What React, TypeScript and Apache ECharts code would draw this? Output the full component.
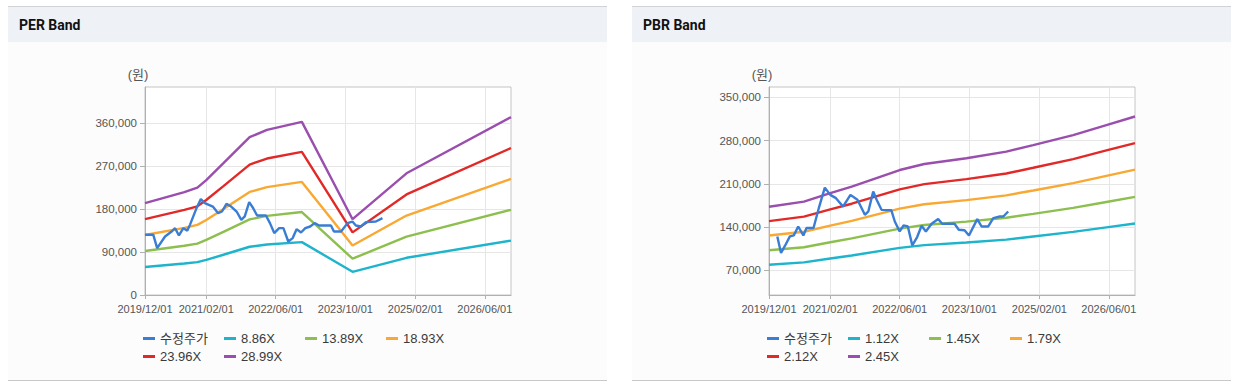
import React, { useEffect, useRef } from 'react';
import * as echarts from 'echarts';

// ---------- data ----------
const priceName = '수정주가';
const perMultiples = ['8.86X', '13.89X', '18.93X', '23.96X', '28.99X'];
const pbrMultiples = ['1.12X', '1.45X', '1.79X', '2.12X', '2.45X'];

const xMinDate = '2019-12-01';
const xMaxDate = '2026-12-01';
const xTickDates = ['2019-12-01', '2021-02-01', '2022-06-01', '2023-10-01', '2025-02-01', '2026-06-01'];

const perYTicks = [0, 90000, 180000, 270000, 360000];
const pbrYTicks = [70000, 140000, 210000, 280000, 350000];

// PER band lines
const perBandDates = ['2019-12-01', '2020-09-01', '2020-12-01', '2021-02-01', '2021-06-01', '2021-12-01', '2022-04-01', '2022-12-01', '2023-11-20', '2024-12-01', '2026-12-01'];
const perBand886 = [58800, 65900, 68800, 73600, 84400, 101100, 105800, 110900, 48600, 78000, 113900];
const perBand1389 = [92200, 103300, 107800, 115400, 132400, 158500, 165800, 173900, 76100, 122200, 178600];
const perBand1893 = [125700, 140800, 146900, 157300, 180400, 216000, 226000, 237000, 103700, 166600, 243400];
const perBand2396 = [159100, 178300, 185900, 199100, 228300, 273400, 286100, 300000, 131300, 210800, 308100];
const perBand2899 = [192500, 215700, 225000, 240900, 276300, 330800, 346100, 363000, 158900, 255100, 372800];

// PBR band lines
const pbrBandDates = ['2019-12-01', '2020-08-01', '2021-02-01', '2021-07-01', '2022-06-01', '2022-11-20', '2023-09-10', '2024-06-15', '2024-12-20', '2025-09-25', '2026-05-15', '2026-12-01'];
const pbrBand112 = [79100, 82900, 89200, 94000, 106300, 110800, 115000, 119800, 124800, 132200, 139600, 145900];
const pbrBand145 = [102400, 107300, 115400, 121700, 137600, 143400, 148900, 155200, 161500, 171100, 180700, 188900];
const pbrBand179 = [126400, 132500, 142500, 150200, 169900, 177000, 183800, 191500, 199400, 211200, 223000, 233200];
const pbrBand212 = [149700, 156900, 168800, 177900, 201200, 209700, 217700, 226800, 236200, 250200, 264200, 276200];
const pbrBand245 = [173000, 181300, 195000, 205600, 232500, 242300, 251600, 262200, 272900, 289100, 305300, 319200];

// adjusted price (PER chart)
const perPriceDates = ['2019-12-01', '2020-01-28', '2020-02-24', '2020-04-19', '2020-06-04', '2020-06-28', '2020-07-25', '2020-08-25', '2020-09-22', '2020-10-10', '2020-11-25', '2020-12-25', '2021-01-22', '2021-03-19', '2021-04-25', '2021-05-22', '2021-06-22', '2021-07-25', '2021-09-01', '2021-10-04', '2021-10-28', '2021-11-28', '2021-12-25', '2022-01-22', '2022-03-25', '2022-04-22', '2022-05-22', '2022-06-25', '2022-07-25', '2022-08-28', '2022-09-28', '2022-10-25', '2022-11-25', '2022-12-25', '2023-01-28', '2023-02-28', '2023-04-01', '2023-06-22', '2023-07-13', '2023-09-01', '2023-10-16', '2023-11-19', '2023-12-13', '2024-01-16', '2024-02-22', '2024-05-01', '2024-06-16'];
const perPriceValues = [126200, 126200, 98400, 122700, 133000, 140000, 124800, 140000, 135000, 147000, 182000, 201000, 192600, 185400, 171600, 175000, 191000, 185400, 175000, 157600, 164600, 194600, 182400, 166600, 166600, 150700, 129800, 140200, 140200, 112200, 119300, 138000, 131000, 140000, 143600, 150700, 145700, 145700, 133000, 133000, 150700, 154000, 145700, 143600, 152800, 154000, 161000];

// adjusted price (PBR chart)
const pbrPriceDates = ['2020-01-28', '2020-02-23', '2020-03-22', '2020-04-25', '2020-05-22', '2020-06-22', '2020-07-28', '2020-08-19', '2020-10-07', '2020-11-16', '2020-12-25', '2021-02-01', '2021-03-13', '2021-05-01', '2021-06-22', '2021-08-10', '2021-10-01', '2021-10-25', '2021-11-28', '2021-12-22', '2022-01-25', '2022-04-04', '2022-04-28', '2022-06-01', '2022-06-28', '2022-07-28', '2022-08-28', '2022-10-01', '2022-11-01', '2022-12-01', '2023-01-10', '2023-02-25', '2023-03-25', '2023-06-19', '2023-07-19', '2023-08-28', '2023-09-28', '2023-11-25', '2023-12-25', '2024-02-10', '2024-03-16', '2024-05-01', '2024-05-25', '2024-06-28'];
const pbrPriceValues = [124900, 98100, 109900, 124900, 126500, 141000, 126500, 138500, 138500, 173300, 204000, 192200, 186900, 173300, 192200, 184200, 160000, 165300, 197600, 184200, 168000, 167200, 149100, 133000, 142700, 141000, 110400, 123900, 142200, 133000, 145400, 153000, 145400, 145400, 135700, 134900, 126500, 153000, 141000, 141000, 154600, 157200, 157200, 165300];

// ---------- style ----------
const priceColor = '#3a7dd4';
const bandColors = ['#1db4cc', '#8dbf4e', '#f9a832', '#e12a28', '#9a4ead'];
const labelFont = '"Liberation Sans", Arial, "Noto Sans CJK KR", sans-serif';

const ts = (s: string) => +echarts.time.parse(s);

type ChartCfg = {
  title: string;
  panelX: number;
  gridLeft: number;
  legendX: number;
  yMin: number;
  yMax: number;
  yTicks: number[];
  multiples: string[];
  bandDates: string[];
  bands: number[][];
  priceDates: string[];
  priceValues: number[];
};

const charts: ChartCfg[] = [
  {
    title: 'PER Band', panelX: 8, gridLeft: 145, legendX: 143,
    yMin: 0, yMax: 436000, yTicks: perYTicks, multiples: perMultiples,
    bandDates: perBandDates, bands: [perBand886, perBand1389, perBand1893, perBand2396, perBand2899],
    priceDates: perPriceDates, priceValues: perPriceValues,
  },
  {
    title: 'PBR Band', panelX: 632, gridLeft: 769, legendX: 767,
    yMin: 30000, yMax: 367000, yTicks: pbrYTicks, multiples: pbrMultiples,
    bandDates: pbrBandDates, bands: [pbrBand112, pbrBand145, pbrBand179, pbrBand212, pbrBand245],
    priceDates: pbrPriceDates, priceValues: pbrPriceValues,
  },
];

function buildOption() {
  const grid: any[] = [];
  const xAxis: any[] = [];
  const yAxis: any[] = [];
  const series: any[] = [];
  const legend: any[] = [];
  const graphic: any[] = [];
  const xTickVals = xTickDates.map(ts);

  charts.forEach((c, gi) => {
    const panelW = 599;
    graphic.push(
      { type: 'rect', z: -10, silent: true, shape: { x: c.panelX, y: 6, width: panelW, height: 1 }, style: { fill: '#d2d2d6' } },
      { type: 'rect', z: -10, silent: true, shape: { x: c.panelX, y: 7, width: panelW, height: 35 }, style: { fill: '#eef2f7' } },
      { type: 'rect', z: -10, silent: true, shape: { x: c.panelX, y: 42, width: panelW, height: 338 }, style: { fill: '#fcfcfc' } },
      { type: 'rect', z: -10, silent: true, shape: { x: c.panelX, y: 380, width: panelW, height: 1 }, style: { fill: '#c8c8c8' } },
      { type: 'text', z: -9, silent: true, x: c.panelX + 11, y: 25, style: { text: c.title, font: 'bold 14px Roboto', fill: '#111', verticalAlign: 'middle' } },
    );

    grid.push({ left: c.gridLeft, top: 87, width: 366, height: 208, show: true, borderColor: '#c4c4c4', borderWidth: 1, backgroundColor: '#ffffff' });

    xAxis.push({
      type: 'value', gridIndex: gi, min: ts(xMinDate), max: ts(xMaxDate),
      axisLine: { show: true, onZero: false, lineStyle: { color: '#b0b0b0', width: 1 } },
      axisTick: { show: true, length: 4, customValues: xTickVals, lineStyle: { color: '#b0b0b0' } },
      axisLabel: {
        customValues: xTickVals, hideOverlap: false, margin: 8,
        color: '#555', fontSize: 11, fontFamily: labelFont,
        formatter: (v: number) => echarts.time.format(v, '{yyyy}/{MM}/{dd}', false),
      },
      splitLine: { show: true, lineStyle: { color: '#e6e6e6', width: 1 } },
    });

    yAxis.push({
      type: 'value', gridIndex: gi, min: c.yMin, max: c.yMax,
      name: '(원)', nameLocation: 'end', nameGap: 6,
      nameTextStyle: { color: '#555', fontSize: 13, fontFamily: labelFont, align: 'center', padding: [0, 14, 0, 0] },
      axisLine: { show: true, onZero: false, lineStyle: { color: '#b0b0b0', width: 1 } },
      axisTick: { show: true, length: 5, customValues: c.yTicks, lineStyle: { color: '#b0b0b0' } },
      axisLabel: {
        customValues: c.yTicks, margin: 8, color: '#555', fontSize: 11.5, fontFamily: labelFont,
        formatter: (v: number) => echarts.format.addCommas(v),
      },
      splitLine: { show: true, lineStyle: { color: '#e6e6e6', width: 1 } },
    });

    c.bands.forEach((vals, bi) => {
      series.push({
        type: 'line', name: c.multiples[bi], xAxisIndex: gi, yAxisIndex: gi,
        data: c.bandDates.map((d, i) => [ts(d), vals[i]]),
        symbol: 'none', showSymbol: false, z: 2,
        lineStyle: { color: bandColors[bi], width: 2.4 }, itemStyle: { color: bandColors[bi] },
      });
    });
    series.push({
      type: 'line', name: priceName, xAxisIndex: gi, yAxisIndex: gi,
      data: c.priceDates.map((d, i) => [ts(d), c.priceValues[i]]),
      symbol: 'none', showSymbol: false, z: 3,
      lineStyle: { color: priceColor, width: 2.4 }, itemStyle: { color: priceColor },
    });

    const names = [priceName, ...c.multiples];
    names.forEach((n, i) => {
      legend.push({
        data: [n], left: c.legendX + (i % 4) * 81, top: 332 + Math.floor(i / 4) * 18,
        padding: 0, itemWidth: 12, itemHeight: 3, icon: 'rect', selectedMode: false,
        textStyle: { color: '#3a3a3a', fontSize: 13, fontFamily: labelFont },
      });
    });
  });

  return { animation: false, backgroundColor: '#ffffff', grid, xAxis, yAxis, series, legend, graphic, tooltip: { show: false } };
}

export default function App() {
  const ref = useRef<HTMLDivElement>(null);
  useEffect(() => {
    if (!ref.current) return;
    const chart = echarts.init(ref.current, undefined, { renderer: 'svg' });
    chart.setOption(buildOption() as any);
    return () => chart.dispose();
  }, []);
  return <div ref={ref} style={{ position: 'absolute', left: 0, top: 0, width: 1243, height: 388 }} />;
}
